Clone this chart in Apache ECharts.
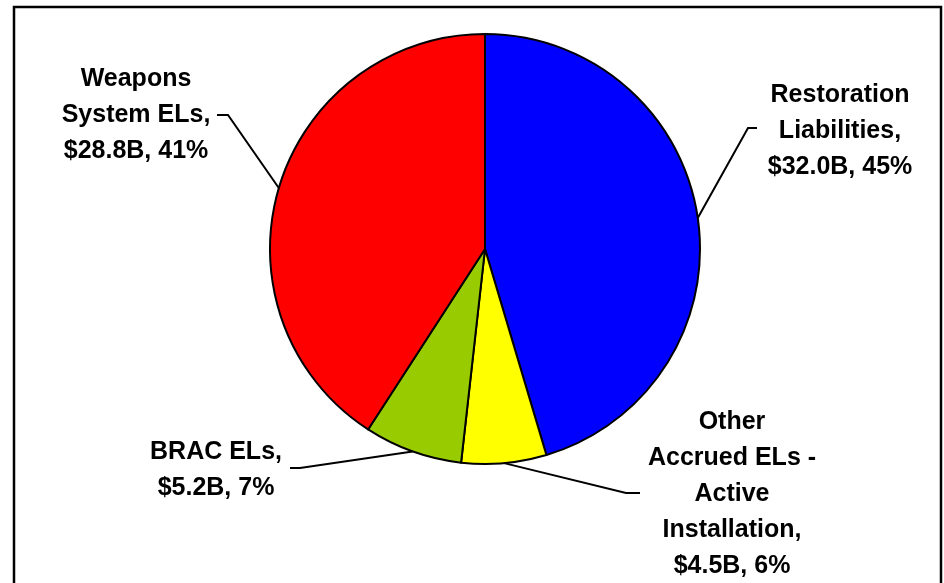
<!DOCTYPE html>
<html>
<head>
<meta charset="utf-8">
<script src="https://cdn.jsdelivr.net/npm/echarts@6/dist/echarts.min.js"></script>
<style>html,body{margin:0;padding:0;background:#fff;}#c{width:944px;height:583px;}</style>
</head>
<body>
<div id="c"></div>
<script>
const categories = ["Restoration\nLiabilities", "Other\nAccrued ELs -\nActive\nInstallation", "BRAC ELs", "Weapons\nSystem ELs"];
const values = [32.0, 4.5, 5.2, 28.8];
const colors = ["#0000FF", "#FFFF00", "#99CC00", "#FF0000"];

// label placement (annotation layout, not data)
const labelPos = [
  {x: 840, y: 131, bend: [748, 128], end: [757, 128]},
  {x: 732, y: 494, bend: [626, 493], end: [640, 493]},
  {x: 216, y: 470, bend: [300, 468], end: [290, 468]},
  {x: 136, y: 115, bend: [228, 115], end: [217, 115]}
];

const chart = echarts.init(document.getElementById('c'), null, {renderer: 'canvas'});
chart.setOption({
  animation: false,
  backgroundColor: '#fff',
  graphic: [{
    type: 'rect', shape: {x: 14, y: 7, width: 927, height: 600},
    style: {fill: 'none', stroke: '#000', lineWidth: 2.5}, silent: true
  }],
  series: [{
    type: 'pie',
    center: [485, 249],
    radius: 215,
    startAngle: 90,
    clockwise: true,
    avoidLabelOverlap: false,
    emphasis: {disabled: true},
    itemStyle: {borderColor: '#000', borderWidth: 2},
    label: {
      show: true,
      position: 'outside',
      color: '#000',
      fontFamily: 'Liberation Sans, Arial, sans-serif',
      fontWeight: 'bold',
      fontSize: 25,
      lineHeight: 36,
      align: 'center',
      formatter: p => p.name + ",\n$" + p.value.toFixed(1) + "B, " + Math.round(p.percent) + "%"
    },
    labelLine: {show: true, length: 10, length2: 10, lineStyle: {color: '#000', width: 2}},
    labelLayout: function (params) {
      const lp = labelPos[params.dataIndex];
      const start = params.labelLinePoints ? params.labelLinePoints[0] : lp.bend;
      return {
        x: lp.x, y: lp.y, align: 'center', verticalAlign: 'middle',
        labelLinePoints: [start, lp.bend, lp.end]
      };
    },
    data: categories.map((c, i) => ({name: c, value: values[i], itemStyle: {color: colors[i]}}))
  }]
});
</script>
</body>
</html>
